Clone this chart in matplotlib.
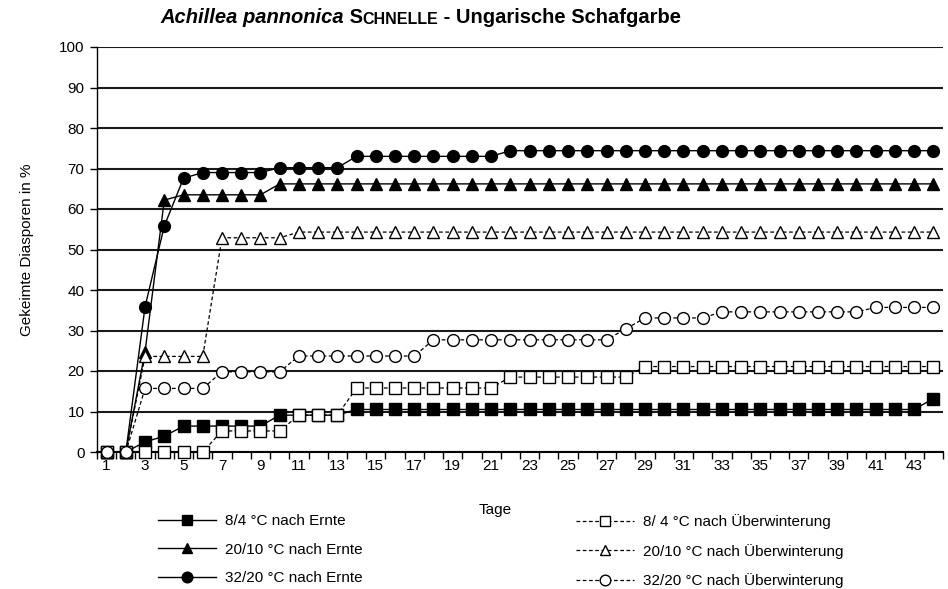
import matplotlib.pyplot as plt

plt.rcParams['font.family'] = ['Liberation Sans', 'DejaVu Sans']

days = list(range(1, 45))

ernte_8_4 = [0, 0, 2.5, 3.9, 6.4, 6.4, 6.4, 6.4, 6.4, 9.1, 9.1, 9.1, 9.1] + [10.5] * 30 + [13.2]
ernte_20_10 = [0, 0, 24.8, 62.2] + [63.5] * 5 + [66.2] * 35
ernte_32_20 = [0, 0, 35.9, 55.8, 67.6] + [69.0] * 4 + [70.2] * 4 + [73.0] * 8 + [74.4] * 23

ueber_8_4 = [0] * 6 + [5.2] * 4 + [9.1] * 3 + [15.8] * 8 + [18.5] * 7 + [21.1] * 16
ueber_20_10 = [0, 0] + [23.6] * 4 + [52.9] * 4 + [54.3] * 34
ueber_32_20 = ([0, 0] + [15.7] * 4 + [19.8] * 4 + [23.7] * 7 + [27.7] * 10 + [30.4]
               + [33.1] * 4 + [34.6] * 8 + [35.7] * 4)

labels_ernte = ['8/4 °C nach Ernte', '20/10 °C nach Ernte', '32/20 °C nach Ernte']
labels_ueber = ['8/ 4 °C nach Überwinterung', '20/10 °C nach Überwinterung',
                '32/20 °C nach Überwinterung']

fig = plt.figure(figsize=(9.48, 5.89), dpi=100)
ax = fig.add_axes([97 / 948, 1 - 452 / 589, 846 / 948, 405 / 589])

ms = 8.5
dash = (0, (3, 2))
h1 = []
for vals, mk, lab in zip([ernte_8_4, ernte_20_10, ernte_32_20], ['s', '^', 'o'], labels_ernte):
    l, = ax.plot(days, vals, color='black', lw=1, marker=mk, ms=ms,
                 mfc='black', mec='black', label=lab, clip_on=False, zorder=3)
    h1.append(l)
h2 = []
for vals, mk, lab in zip([ueber_8_4, ueber_20_10, ueber_32_20], ['s', '^', 'o'], labels_ueber):
    l, = ax.plot(days, vals, color='black', lw=0.9, ls=dash, marker=mk, ms=ms,
                 mfc='white', mec='black', mew=1, label=lab, clip_on=False, zorder=4)
    h2.append(l)

ax.set_xlim(0.5, 44.5)
ax.set_ylim(0, 100)
ax.set_yticks(range(0, 101, 10))
ax.set_xticks(range(1, 44, 2))
ax.set_xticks([d + 0.5 for d in range(0, 45)], minor=True)
ax.tick_params(axis='x', which='major', length=0, labelsize=11, pad=5)
ax.tick_params(axis='x', which='minor', length=5, width=1, direction='out')
ax.tick_params(axis='y', length=5, width=1, direction='out', labelsize=11, pad=4)
ax.yaxis.grid(True, color='#1a1a1a', lw=1.5)
ax.set_axisbelow(True)
for s in ['top', 'right']:
    ax.spines[s].set_visible(False)
ax.spines['left'].set_linewidth(1)
ax.spines['bottom'].set_linewidth(1.5)

ax.set_ylabel('Gekeimte Diasporen in %', fontsize=11, labelpad=18)
fig.text(495 / 948, 1 - 510 / 589, 'Tage', fontsize=11, ha='center', va='center')

# title with small caps part
t1 = fig.text(160 / 948, 1 - 23 / 589, 'Achillea pannonica', fontsize=14.5,
              fontweight='bold', style='italic', va='baseline')
t2 = ax.annotate(' S', xy=(1, 0), xycoords=t1, fontsize=14.5, fontweight='bold',
                 va='bottom', ha='left')
t3 = ax.annotate('CHNELLE', xy=(1, 0), xycoords=t2, fontsize=11.5, fontweight='bold',
                 va='bottom', ha='left')
ax.annotate(' - Ungarische Schafgarbe', xy=(1, 0), xycoords=t3, fontsize=14.5,
            fontweight='bold', va='bottom', ha='left')

leg_kw = dict(frameon=False, fontsize=11, handlelength=3.8, labelspacing=0.95,
              markerscale=0.9, handletextpad=0.6, borderaxespad=0)
fig.legend(handles=h1, loc='upper left', bbox_to_anchor=(152 / 948, 1 - 508 / 589), **leg_kw)
fig.legend(handles=h2, loc='upper left', bbox_to_anchor=(570 / 948, 1 - 508 / 589), **leg_kw)

fig.savefig('out.png', dpi=100)
